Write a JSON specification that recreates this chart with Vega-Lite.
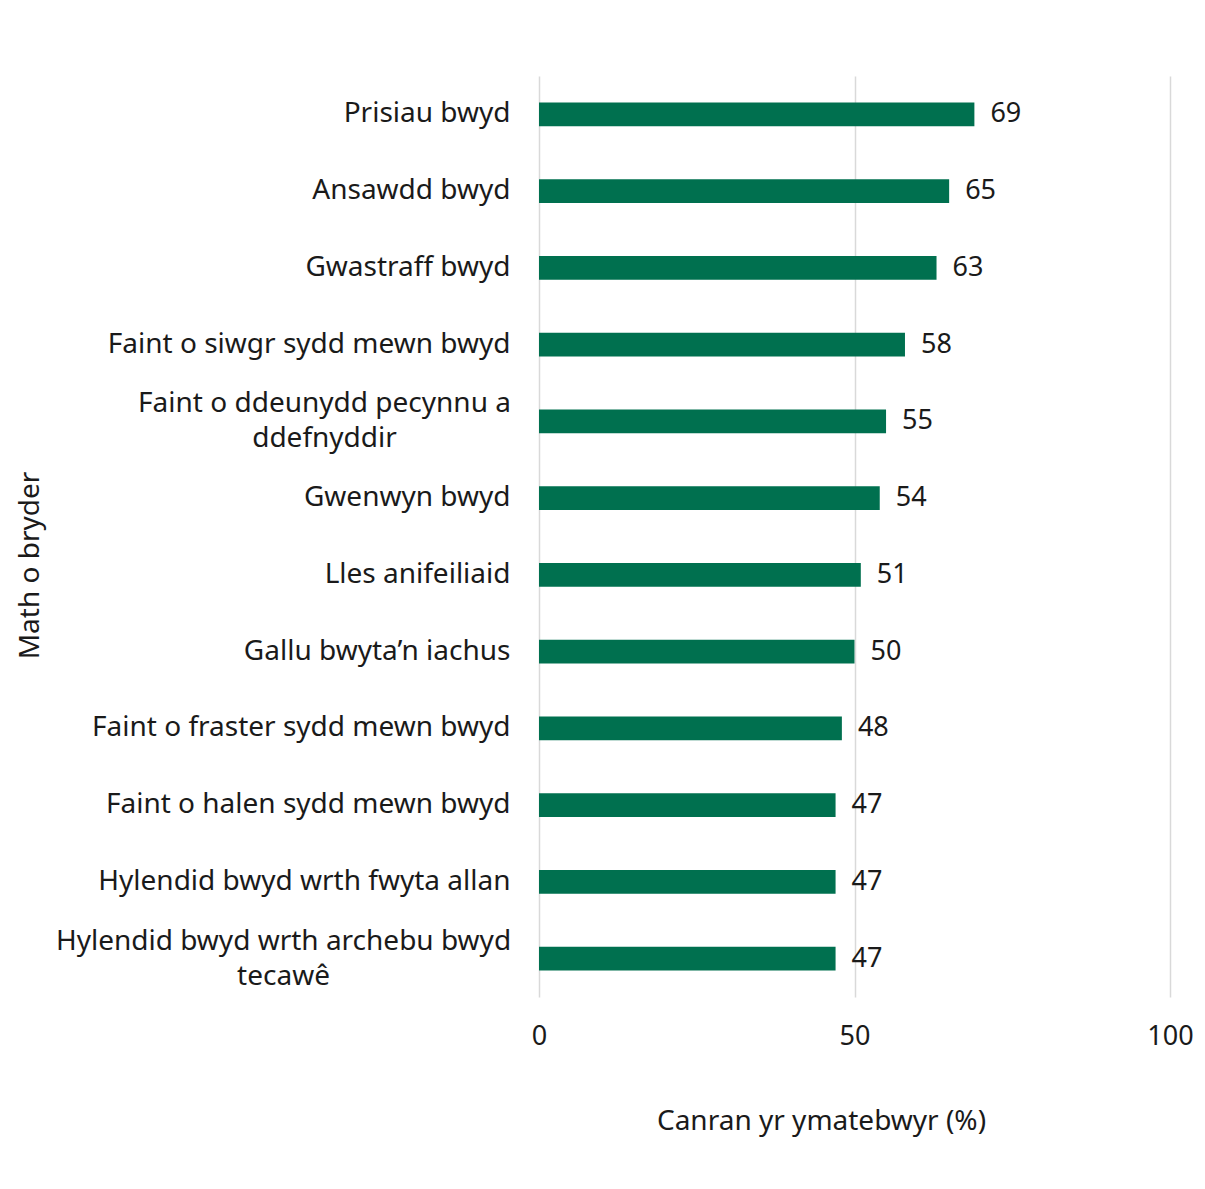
{
  "$schema": "https://vega.github.io/schema/vega-lite/v6.json",
  "autosize": {"type": "none"},
  "width": 631,
  "height": 921,
  "padding": {"left": 539, "top": 76, "right": 35, "bottom": 192},
  "background": "white",
  "config": {
    "view": {"stroke": null},
    "font": "Noto Sans",
    "axis": {"labelFont": "Noto Sans", "titleFont": "Noto Sans", "labelColor": "#1a1a1a", "titleColor": "#1a1a1a", "titleFontWeight": "normal"}
  },
  "data": {
    "values": [
      {"pryder": "Prisiau bwyd", "canran": 69},
      {"pryder": "Ansawdd bwyd", "canran": 65},
      {"pryder": "Gwastraff bwyd", "canran": 63},
      {"pryder": "Faint o siwgr sydd mewn bwyd", "canran": 58},
      {"pryder": "Faint o ddeunydd pecynnu a|ddefnyddir", "canran": 55},
      {"pryder": "Gwenwyn bwyd", "canran": 54},
      {"pryder": "Lles anifeiliaid", "canran": 51},
      {"pryder": "Gallu bwyta’n iachus", "canran": 50},
      {"pryder": "Faint o fraster sydd mewn bwyd", "canran": 48},
      {"pryder": "Faint o halen sydd mewn bwyd", "canran": 47},
      {"pryder": "Hylendid bwyd wrth fwyta allan", "canran": 47},
      {"pryder": "Hylendid bwyd wrth archebu bwyd|tecawê", "canran": 47}
    ]
  },
  "encoding": {
    "y": {
      "field": "pryder",
      "type": "nominal",
      "sort": null,
      "scale": {"paddingInner": 0.69, "paddingOuter": 0.345},
      "axis": {
        "title": "Math o bryder",
        "titleFontSize": 28,
        "titleAngle": -90,
        "titleX": -509,
        "titleY": 489,
        "titleAlign": "center",
        "titleBaseline": "middle",
        "labelFontSize": 28,
        "labelLimit": 600,
        "labelLineHeight": 35,
        "labelExpr": "split(datum.label, '|')",
        "labelOffset": {"expr": "indexof(datum.value, '|') >= 0 ? -17 : 0"},
        "labelAlign": {"expr": "indexof(datum.value, '|') >= 0 ? 'center' : 'right'"},
        "labelPadding": {"expr": "indexof(datum.value, 'archebu') >= 0 ? 256 : indexof(datum.value, 'pecynnu') >= 0 ? 215 : 29"},
        "ticks": false,
        "domain": false
      }
    },
    "x": {
      "field": "canran",
      "type": "quantitative",
      "scale": {"domain": [0, 100]},
      "axis": {
        "title": "Canran yr ymatebwyr (%)",
        "titleFontSize": 28,
        "titleX": 282,
        "titleY": 124,
        "titleAlign": "center",
        "titleBaseline": "middle",
        "labelFontSize": 27,
        "labelPadding": 26,
        "labelFlush": false,
        "values": [0, 50, 100],
        "ticks": false,
        "domain": false,
        "grid": true,
        "gridColor": "#d9d9d9",
        "gridWidth": 1.5
      }
    }
  },
  "layer": [
    {"mark": {"type": "bar", "color": "#00704F"}},
    {
      "mark": {"type": "text", "align": "left", "baseline": "middle", "dx": 16, "fontSize": 27, "color": "#1a1a1a", "font": "Noto Sans"},
      "encoding": {"text": {"field": "canran", "type": "quantitative"}}
    }
  ]
}
